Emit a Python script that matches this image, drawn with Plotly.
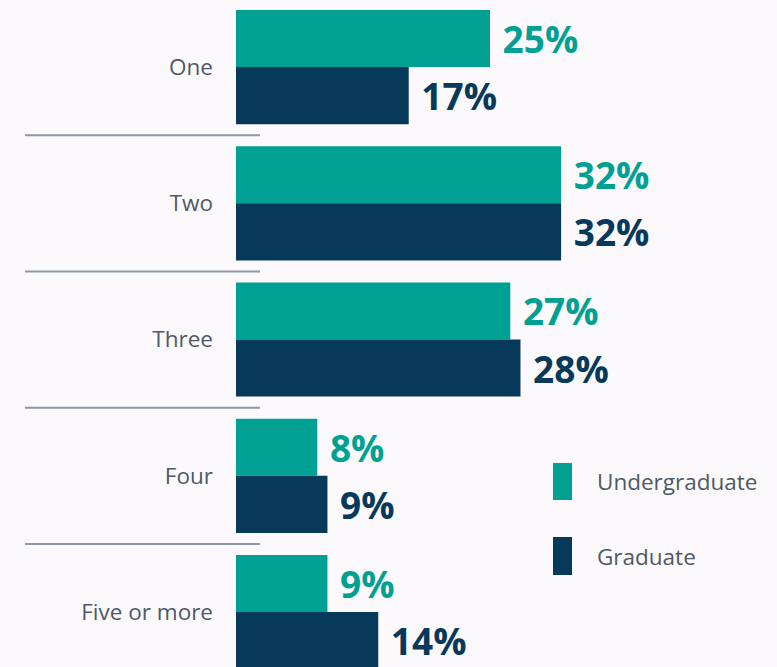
import plotly.graph_objects as go

categories = ["One", "Two", "Three", "Four", "Five or more"]
series_names = ["Undergraduate", "Graduate"]
undergrad = [25, 32, 27, 8, 9]
graduate = [17, 32, 28, 9, 14]

TEAL = "#00a092"
NAVY = "#06395a"
BG = "#fcf9fc"
LABEL = "#4d5968"
LINE = "#8c99a6"

W, H = 777, 667
ML = 236
PXPER = 10.16
plot_w = W - ML

c0, pitch = 67, 136.25
y_top = -c0 / pitch
y_bot = (H - c0) / pitch

fig = go.Figure()
for name, vals, col in [(series_names[0], undergrad, TEAL), (series_names[1], graduate, NAVY)]:
    fig.add_trace(go.Bar(
        y=categories, x=vals, name=name, orientation="h",
        marker=dict(color=col, line=dict(width=0)),
        texttemplate=" %{x}%", textposition="outside",
        textfont=dict(family="Open Sans", size=37, color=col, weight="bold"),
        constraintext="none", cliponaxis=False, showlegend=False,
    ))

shapes = []
for i in range(len(categories) - 1):
    shapes.append(dict(type="line", xref="paper", yref="y",
                       x0=(25 - ML) / plot_w, x1=(260 - ML) / plot_w,
                       y0=i + 0.5, y1=i + 0.5, line=dict(color=LINE, width=2)))

annotations = []
legend_rows = [(series_names[0], TEAL, 463, 500), (series_names[1], NAVY, 537, 575)]
for name, col, t, b in legend_rows:
    shapes.append(dict(type="rect", xref="paper", yref="paper",
                       x0=(553 - ML) / plot_w, x1=(572 - ML) / plot_w,
                       y0=1 - b / H, y1=1 - t / H, fillcolor=col, line=dict(width=0)))
    annotations.append(dict(xref="paper", yref="paper", x=(595 - ML) / plot_w,
                            y=1 - ((t + b) / 2) / H, text=name, showarrow=False,
                            xanchor="left", yanchor="middle",
                            font=dict(family="Open Sans", size=22.5, color=LABEL)))

fig.update_layout(
    width=W, height=H,
    margin=dict(l=ML, r=0, t=0, b=0, pad=0),
    paper_bgcolor=BG, plot_bgcolor=BG,
    barmode="group", bargap=22 / 136.25, bargroupgap=0,
    shapes=shapes, annotations=annotations,
    showlegend=False,
)
fig.update_xaxes(visible=False, range=[0, plot_w / PXPER], fixedrange=True)
fig.update_yaxes(range=[y_bot, y_top], showgrid=False, zeroline=False, showline=False,
                 ticks="", ticklabelstandoff=22, automargin=False,
                 tickfont=dict(family="Open Sans", size=22.5, color=LABEL))

fig.write_html("out.html")
